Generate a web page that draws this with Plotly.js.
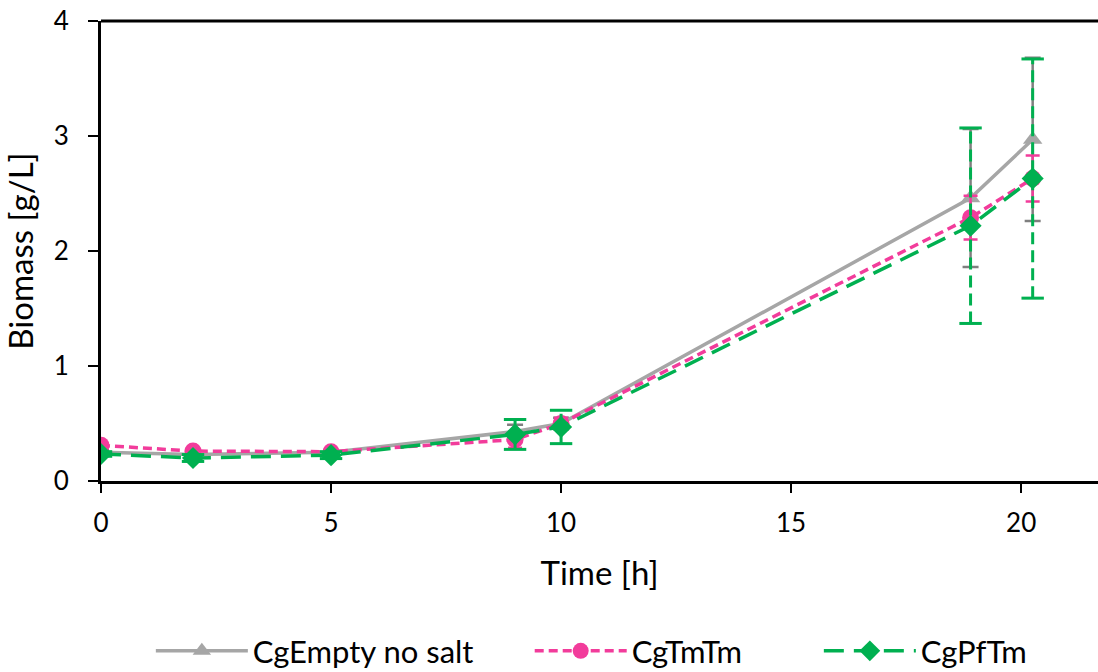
<!DOCTYPE html>
<html>
<head>
<meta charset="utf-8">
<script src="https://cdn.plot.ly/plotly-3.0.1.min.js"></script>
<style>html,body{margin:0;padding:0;background:#fff;}#chart{width:1098px;height:672px;}</style>
</head>
<body>
<div id="chart"></div>
<script>
const time = [0, 2, 5, 9, 10, 18.9, 20.25];
const grayVals = [0.25, 0.23, 0.25, 0.43, 0.50, 2.46, 2.97];
const grayErr = [0.02, 0.02, 0.02, 0.06, 0.05, 0.60, 0.71];
const pinkVals = [0.31, 0.26, 0.255, 0.36, 0.50, 2.29, 2.63];
const pinkErr = [0.02, 0.02, 0.02, 0.07, 0.05, 0.19, 0.20];
const greenVals = [0.235, 0.20, 0.225, 0.405, 0.47, 2.22, 2.63];
const greenErr = [0.02, 0.03, 0.03, 0.13, 0.145, 0.85, 1.04];
const seriesNames = ['CgEmpty no salt', 'CgTmTm', 'CgPfTm'];

const GRAY = '#a6a6a6', PINK = '#f23c9b', GREEN = '#00b050';
const FONT = 'Lato, "Open Sans", sans-serif';

// dashed green error bars built from the arrays
const gx = [], gy = [];
const capX = [], capY = [];
time.forEach((t, i) => {
  gx.push(t, t, null);
  gy.push(greenVals[i] - greenErr[i], greenVals[i] + greenErr[i], null);
  capX.push(t, t);
  capY.push(greenVals[i] - greenErr[i], greenVals[i] + greenErr[i]);
});

const traces = [
  {
    x: time, y: grayVals, name: seriesNames[0], type: 'scatter', mode: 'lines+markers', legend: 'legend',
    line: {color: GRAY, width: 3.5},
    marker: {symbol: 'triangle-up', size: 17, color: GRAY},
    error_y: {type: 'data', array: grayErr, visible: true, color: '#7f7f7f', thickness: 2.5, width: 8}
  },
  {
    x: time, y: pinkVals, name: seriesNames[1], type: 'scatter', mode: 'lines+markers', legend: 'legend2',
    line: {color: PINK, width: 3.5, dash: '9px,5px'},
    marker: {symbol: 'circle', size: 17, color: PINK},
    error_y: {type: 'data', array: pinkErr, visible: true, color: PINK, thickness: 2.5, width: 7}
  },
  {
    x: gx, y: gy, type: 'scatter', mode: 'lines', showlegend: false, hoverinfo: 'skip',
    line: {color: GREEN, width: 3, dash: '12px,6px'}
  },
  {
    x: capX, y: capY, type: 'scatter', mode: 'markers', showlegend: false, hoverinfo: 'skip',
    marker: {symbol: 'line-ew-open', size: 16, color: GREEN, line: {color: GREEN, width: 3}}
  },
  {
    x: time, y: greenVals, name: seriesNames[2], type: 'scatter', mode: 'lines+markers', legend: 'legend3',
    line: {color: GREEN, width: 3.5, dash: '20px,10px'},
    marker: {symbol: 'diamond', size: 17, color: GREEN}
  }
];

const legendBase = {orientation: 'h', xanchor: 'left', y: -0.37, yanchor: 'middle',
                    font: {family: FONT, size: 31, color: '#000'}, itemwidth: 92,
                    bgcolor: 'rgba(0,0,0,0)'};

const layout = {
  width: 1098, height: 672,
  margin: {l: 101, r: 0, t: 21, b: 191, autoexpand: false},
  paper_bgcolor: '#fff', plot_bgcolor: '#fff',
  font: {family: FONT, size: 26, color: '#000'},
  showlegend: true,
  legend: Object.assign({}, legendBase, {x: 0.050}),
  legend2: Object.assign({}, legendBase, {x: 0.430}),
  legend3: Object.assign({}, legendBase, {x: 0.720}),
  xaxis: {
    range: [0, 21.67], dtick: 5, tick0: 0, showgrid: false, zeroline: false,
    showline: true, linecolor: '#000', linewidth: 3,
    ticks: 'outside', ticklen: 9, tickwidth: 2.5, tickcolor: '#000',
    ticklabelstandoff: 8,
    tickfont: {family: FONT, size: 26, color: '#000'},
    title: {text: 'Time [h]', font: {family: FONT, size: 33, color: '#000'}, standoff: 25}
  },
  yaxis: {
    range: [0, 4], dtick: 1, tick0: 0, showgrid: false, zeroline: false,
    showline: true, linecolor: '#000', linewidth: 3,
    ticks: 'outside', ticklen: 10, tickwidth: 2.5, tickcolor: '#000',
    ticklabelstandoff: 14,
    tickfont: {family: FONT, size: 26, color: '#000'},
    title: {text: 'Biomass [g/L]', font: {family: FONT, size: 33, color: '#000'}, standoff: 14}
  },
  shapes: [{type: 'line', xref: 'paper', yref: 'paper', x0: 0, x1: 1, y0: 1, y1: 1,
            line: {color: '#000', width: 3}}]
};

Plotly.newPlot('chart', traces, layout, {displayModeBar: false, staticPlot: true});
</script>
</body>
</html>
